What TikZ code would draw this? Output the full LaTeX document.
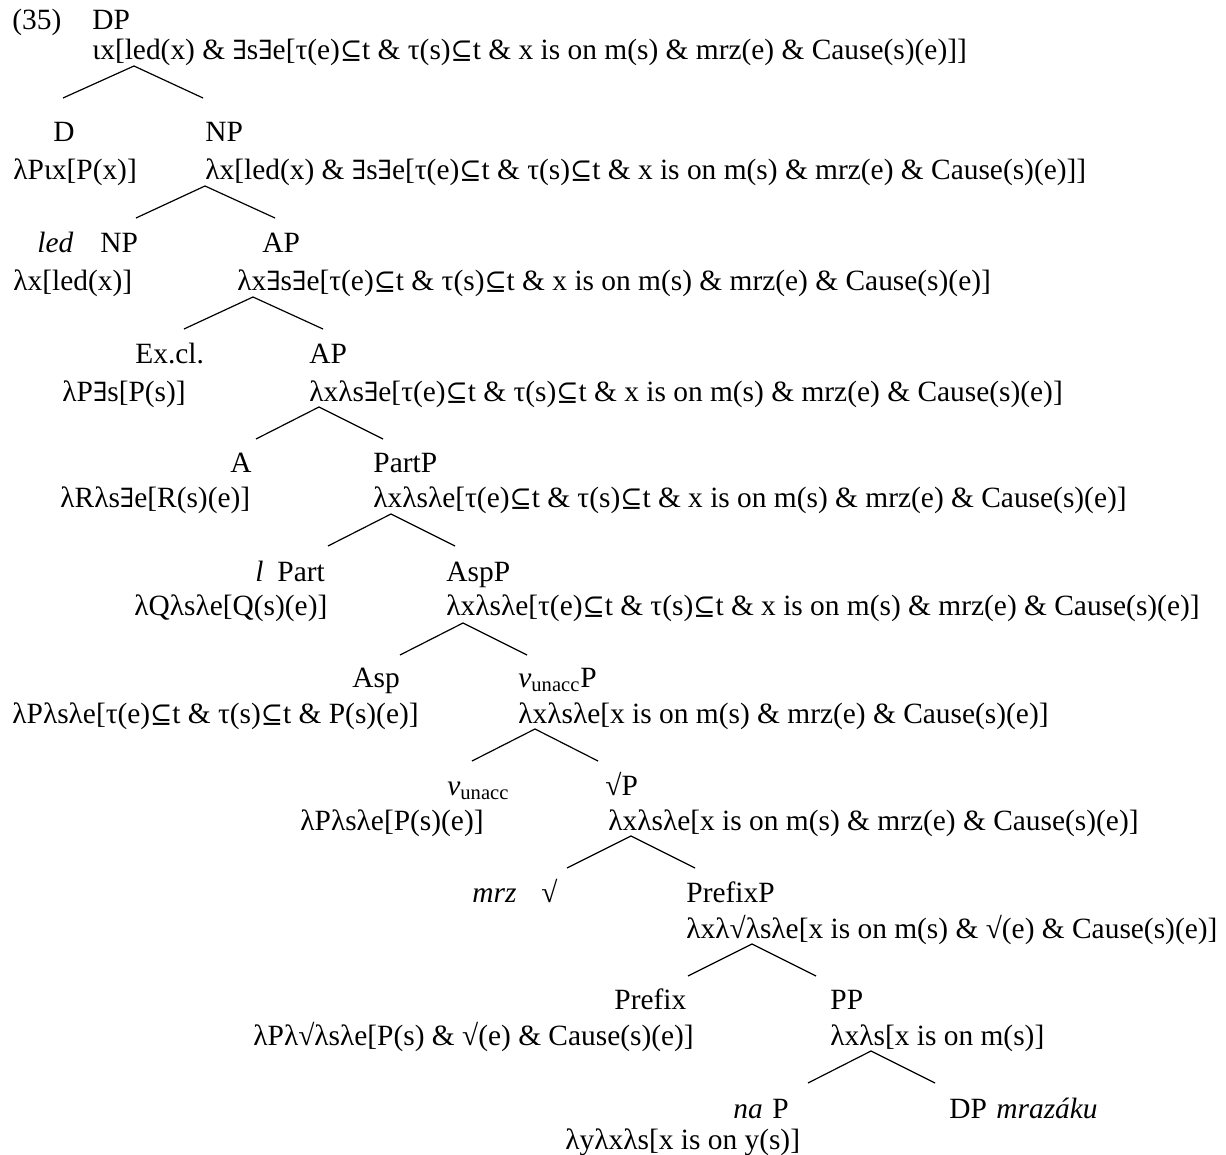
\documentclass[tikz,border=0pt]{standalone}
\usepackage{fontspec}
\setmainfont{Liberation Serif}
\newfontfamily\symfont{DejaVu Serif}[Scale=0.9]
\usepackage{tikz}

\newcommand{\Ex}{{\symfont ∃}}
\newcommand{\Sq}{{\symfont ⊆}}
\newcommand{\vun}{\textit{v}\textsubscript{unacc}}

\tikzset{
  etiq/.style={anchor=base west, inner sep=0pt},
  rama/.style={line width=0.6pt}
}

\begin{document}
\begin{tikzpicture}[x=0.5pt, y=-0.5pt, font=\fontsize{14.7}{17}\selectfont]
  \useasboundingbox (0,0) rectangle (1226,1155);

  % DP
  \node[etiq] (num) at (12,30) {(35)};
  \node[etiq] (dp) at (92,30) {DP};
  \node[etiq] (dp-sem) at (92,60) {ιx[led(x) \& \Ex s\Ex e[τ(e)\Sq t \& τ(s)\Sq t \& x is on m(s) \& mrz(e) \& Cause(s)(e)]]};
  \coordinate (dp-a) at (134,66);
  \coordinate (d-top) at (63,98);
  \coordinate (np-top) at (203,98);
  \draw[rama] (d-top) -- (dp-a) -- (np-top);

  % D y NP
  \node[etiq] (d) at (53,142) {D};
  \node[etiq] (np) at (205,142) {NP};
  \node[etiq] (d-sem) at (13,180) {λPιx[P(x)]};
  \node[etiq] (np-sem) at (205,180) {λx[led(x) \& \Ex s\Ex e[τ(e)\Sq t \& τ(s)\Sq t \& x is on m(s) \& mrz(e) \& Cause(s)(e)]]};
  \coordinate (np-a) at (205,186);
  \coordinate (led-top) at (136,218);
  \coordinate (ap-top) at (275,218);
  \draw[rama] (led-top) -- (np-a) -- (ap-top);

  % NP y AP
  \node[etiq] (led) at (37,253) {\textit{led}};
  \node[etiq] (np2) at (100,253) {NP};
  \node[etiq] (ap) at (262,253) {AP};
  \node[etiq] (led-sem) at (13,291) {λx[led(x)]};
  \node[etiq] (ap-sem) at (237,291) {λx\Ex s\Ex e[τ(e)\Sq t \& τ(s)\Sq t \& x is on m(s) \& mrz(e) \& Cause(s)(e)]};
  \coordinate (ap-a) at (253,297);
  \coordinate (excl-top) at (184,329);
  \coordinate (ap2-top) at (323,329);
  \draw[rama] (excl-top) -- (ap-a) -- (ap2-top);

  % Ex.cl. y AP
  \node[etiq] (excl) at (135,364) {Ex.cl.};
  \node[etiq] (ap2) at (309,364) {AP};
  \node[etiq] (excl-sem) at (62,401) {λP\Ex s[P(s)]};
  \node[etiq] (ap2-sem) at (309,401) {λxλs\Ex e[τ(e)\Sq t \& τ(s)\Sq t \& x is on m(s) \& mrz(e) \& Cause(s)(e)]};
  \coordinate (ap2-a) at (319,407);
  \coordinate (a-top) at (256,439);
  \coordinate (partp-top) at (383,439);
  \draw[rama] (a-top) -- (ap2-a) -- (partp-top);

  % A y PartP
  \node[etiq] (a) at (230,472) {A};
  \node[etiq] (partp) at (373,472) {PartP};
  \node[etiq] (a-sem) at (60,507) {λRλs\Ex e[R(s)(e)]};
  \node[etiq] (partp-sem) at (373,507) {λxλsλe[τ(e)\Sq t \& τ(s)\Sq t \& x is on m(s) \& mrz(e) \& Cause(s)(e)]};
  \coordinate (partp-a) at (391,514);
  \coordinate (part-top) at (328,546);
  \coordinate (aspp-top) at (455,546);
  \draw[rama] (part-top) -- (partp-a) -- (aspp-top);

  % Part y AspP
  \node[etiq] (l) at (255,581) {\textit{l}};
  \node[etiq] (part) at (277,581) {Part};
  \node[etiq] (part-sem) at (134,615) {λQλsλe[Q(s)(e)]};
  \node[etiq] (aspp) at (446,581) {AspP};
  \node[etiq] (aspp-sem) at (446,615) {λxλsλe[τ(e)\Sq t \& τ(s)\Sq t \& x is on m(s) \& mrz(e) \& Cause(s)(e)]};
  \coordinate (aspp-a) at (463,623);
  \coordinate (asp-top) at (400,655);
  \coordinate (vp-top) at (527,655);
  \draw[rama] (asp-top) -- (aspp-a) -- (vp-top);

  % Asp y vP
  \node[etiq] (asp) at (352,687) {Asp};
  \node[etiq] (vp) at (518,687) {\vun P};
  \node[etiq] (asp-sem) at (12,723) {λPλsλe[τ(e)\Sq t \& τ(s)\Sq t \& P(s)(e)]};
  \node[etiq] (vp-sem) at (518,723) {λxλsλe[x is on m(s) \& mrz(e) \& Cause(s)(e)]};
  \coordinate (vp-a) at (535,729);
  \coordinate (v-top) at (472,761);
  \coordinate (rootp-top) at (598,761);
  \draw[rama] (v-top) -- (vp-a) -- (rootp-top);

  % v y raiz
  \node[etiq] (v) at (447,795) {\vun};
  \node[etiq] (rootp) at (605,795) {√P};
  \node[etiq] (v-sem) at (300,830) {λPλsλe[P(s)(e)]};
  \node[etiq] (rootp-sem) at (608,830) {λxλsλe[x is on m(s) \& mrz(e) \& Cause(s)(e)]};
  \coordinate (rootp-a) at (631,836);
  \coordinate (root-top) at (567,868);
  \coordinate (prefixp-top) at (695,868);
  \draw[rama] (root-top) -- (rootp-a) -- (prefixp-top);

  % raiz y PrefixP
  \node[etiq] (mrz) at (472,902) {\textit{mrz}};
  \node[etiq] (root) at (541,902) {√};
  \node[etiq] (prefixp) at (686,902) {PrefixP};
  \node[etiq] (prefixp-sem) at (686,938) {λxλ√λsλe[x is on m(s) \& √(e) \& Cause(s)(e)]};
  \coordinate (prefixp-a) at (752,944);
  \coordinate (prefix-top) at (688,976);
  \coordinate (pp-top) at (816,976);
  \draw[rama] (prefix-top) -- (prefixp-a) -- (pp-top);

  % Prefix y PP
  \node[etiq] (prefix) at (614,1009) {Prefix};
  \node[etiq] (pp) at (830,1009) {PP};
  \node[etiq] (prefix-sem) at (253,1045) {λPλ√λsλe[P(s) \& √(e) \& Cause(s)(e)]};
  \node[etiq] (pp-sem) at (830,1045) {λxλs[x is on m(s)]};
  \coordinate (pp-a) at (871,1051);
  \coordinate (p-top) at (808,1083);
  \coordinate (dp2-top) at (935,1083);
  \draw[rama] (p-top) -- (pp-a) -- (dp2-top);

  % P y DP
  \node[etiq] (na) at (733,1118) {\textit{na}};
  \node[etiq] (p) at (772,1118) {P};
  \node[etiq] (p-sem) at (565,1149) {λyλxλs[x is on y(s)]};
  \node[etiq] (dp2) at (949,1118) {DP};
  \node[etiq] (mrazaku) at (996,1118) {\textit{mrazáku}};
\end{tikzpicture}
\end{document}
